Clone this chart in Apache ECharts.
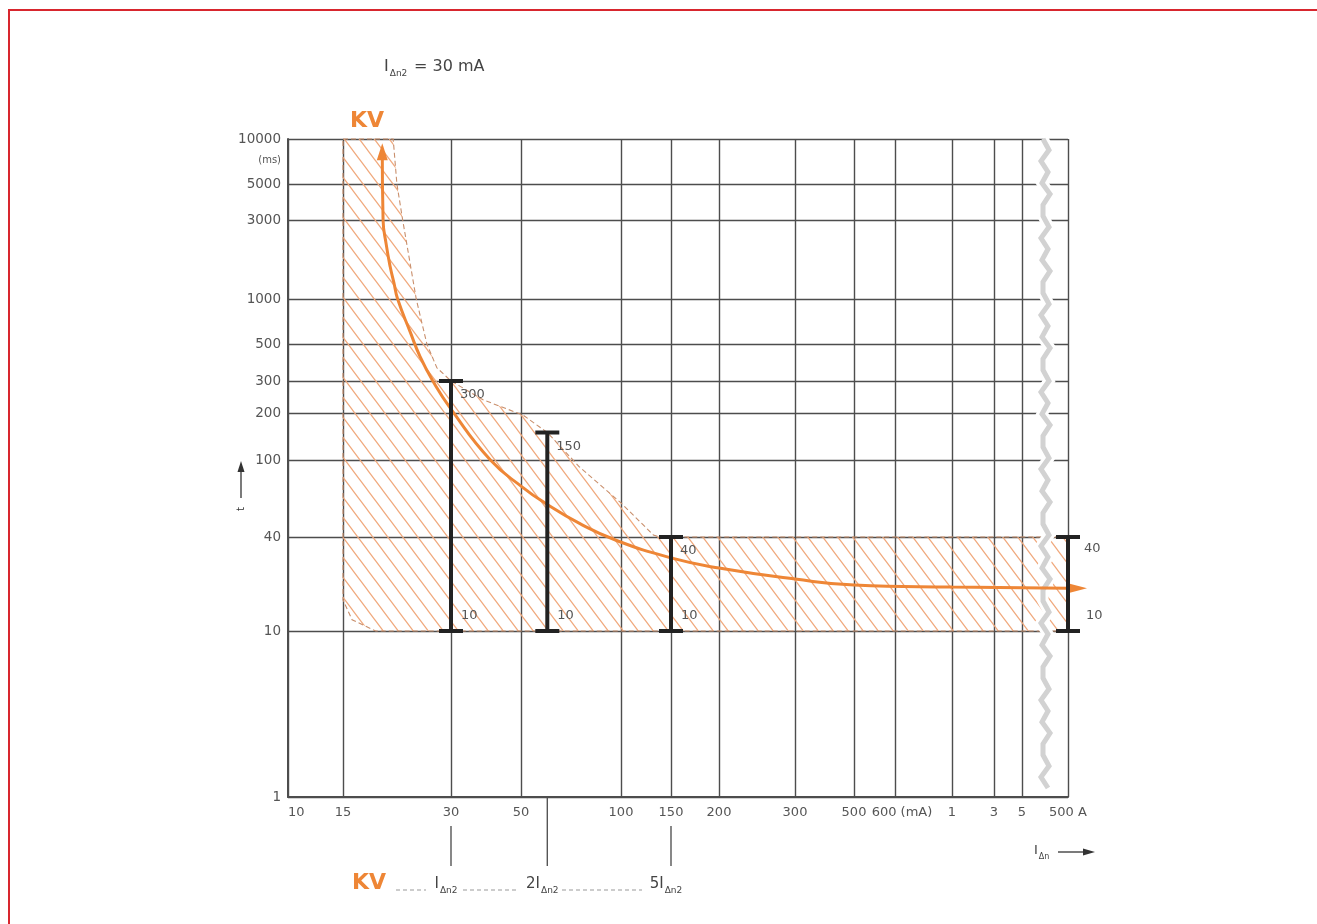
<!DOCTYPE html>
<html>
<head>
<meta charset="utf-8">
<style>
  html, body { margin: 0; padding: 0; background: #fff; }
  #chart { width: 1317px; height: 924px; }
</style>
<script src="https://cdn.jsdelivr.net/npm/echarts@6/dist/echarts.min.js"></script>
</head>
<body>
<div id="chart"></div>
<script>
// residual current axis, mA
const xTicks = [10, 15, 30, 50, 100, 150, 200, 300, 500, 600, 1000, 3000, 5000, 500000];
const xLabels = ['10', '15', '30', '50', '100', '150', '200', '300', '500', '600 (mA)', '1', '3', '5', '500 A'];
// tripping time axis, ms
const yTicks = [1, 10, 40, 100, 200, 300, 500, 1000, 3000, 5000, 10000];
const yLabels = ['1', '10', '40', '100', '200', '300', '500', '1000', '3000', '5000', '10000'];

// KV characteristic
const curveI = [19.3, 19.4, 19.8, 20.3, 20.8, 21.3, 23.1, 24.6, 26.7, 30, 40, 50.7, 59, 75, 97, 150, 200, 300, 500, 1000, 500000];
const curveT = [8400, 3000, 2130, 1570, 1250, 1000, 600, 420, 300, 210, 100, 72, 60, 47, 38, 29.4, 25.3, 21.5, 19.7, 19.1, 18.8];

// tolerance band outline
const bandI = [15, 20.7, 21.2, 22, 24, 25.7, 27.4, 30, 38, 50.7, 60, 75, 100, 130, 137, 500000, 500000, 18.5, 15.9, 15];
const bandT = [10000, 10000, 5000, 3000, 1000, 500, 360, 300, 236, 194, 150, 92, 60, 41, 40, 40, 10, 10, 11.8, 15.8];

// limit bars at I, 2I, 5I and 500 A
const barI = [30, 60, 150, 500000];
const barMax = [300, 150, 40, 40];
const barMin = [10, 10, 10, 10];

// the axes are not truly logarithmic, so each tick gets its own spot (px from grid origin)
const xTickPos = [0, 55, 163, 233, 333, 383, 431, 507, 566, 607, 664, 706, 734, 780];
const yTickPos = [0, 166, 260, 337, 384, 416, 453, 498, 577, 613, 658];

function scalePos(v, ticks, pos) {
  let i = 0;
  while (i < ticks.length - 2 && v > ticks[i + 1]) i++;
  const a = Math.log10(ticks[i]), b = Math.log10(ticks[i + 1]);
  const t = (Math.log10(v) - a) / (b - a);
  return pos[i] + t * (pos[i + 1] - pos[i]);
}
const X = v => scalePos(v, xTicks, xTickPos);
const Y = v => scalePos(v, yTicks, yTickPos);

function labelFor(val, pos, labels) {
  let best = 0;
  pos.forEach((p, i) => { if (Math.abs(p - val) < Math.abs(pos[best] - val)) best = i; });
  return labels[best];
}

const ORANGE = '#ee8636';
const GRID = '#4d4d4d';
const TEXT = '#555';
const FONT = '"DejaVu Sans", sans-serif';

function makeHatch() {
  const w = 15, h = 20;
  const c = document.createElement('canvas');
  c.width = w; c.height = h;
  const g = c.getContext('2d');
  g.strokeStyle = '#f0a87c';
  g.lineWidth = 1.3;
  for (let k = -1; k <= 1; k++) {
    g.beginPath();
    g.moveTo(k * w - w, -h);
    g.lineTo(k * w + 2 * w, 2 * h);
    g.stroke();
  }
  return c;
}
const hatch = { image: makeHatch(), repeat: 'repeat' };

const chart = echarts.init(document.getElementById('chart'));

const last = curveI.length - 1;

chart.setOption({
  animation: false,
  grid: { left: 288, top: 139, width: 780, height: 658 },
  xAxis: {
    type: 'value', min: 0, max: 780,
    axisLine: { show: true, lineStyle: { color: GRID, width: 2 } },
    axisTick: { show: false, customValues: xTicks.map(X) },
    axisLabel: {
      customValues: xTicks.map(X),
      formatter: v => {
        const s = labelFor(v, xTickPos, xLabels);
        return s.indexOf('(mA)') > 0 ? '{p|' + s + '}' : s;
      },
      rich: { p: { padding: [0, 0, 0, 14], color: TEXT, fontFamily: FONT, fontSize: 13 } },
      color: TEXT, fontFamily: FONT, fontSize: 13, margin: 9,
      alignMinLabel: 'left'
    },
    splitLine: { show: true, lineStyle: { color: GRID, width: 1.4 } }
  },
  yAxis: {
    type: 'value', min: 0, max: 658,
    axisLine: { show: true, lineStyle: { color: GRID, width: 2 } },
    axisTick: { show: false, customValues: yTicks.map(Y) },
    axisLabel: {
      customValues: yTicks.map(Y),
      formatter: v => labelFor(v, yTickPos, yLabels),
      color: TEXT, fontFamily: FONT, fontSize: 13.5, margin: 7
    },
    splitLine: { show: true, lineStyle: { color: GRID, width: 1.4 } }
  },
  series: [
    {
      type: 'custom',
      z: 2,
      data: bandI.map((v, i) => [X(v), Y(bandT[i])]),
      renderItem: (params, api) => {
        if (params.dataIndex !== 0) return null;
        const pts = bandI.map((v, i) => api.coord([X(v), Y(bandT[i])]));
        return {
          type: 'polygon',
          shape: { points: pts, smooth: 0 },
          style: { fill: hatch, stroke: '#c98f6c', lineWidth: 1.1, lineDash: [5, 3] }
        };
      }
    },
    {
      type: 'line',
      z: 5,
      data: curveI.map((v, i) => [X(v), Y(curveT[i])]),
      smooth: 0.5,
      showSymbol: false,
      lineStyle: { color: ORANGE, width: 3 },
      itemStyle: { color: ORANGE }
    },
    {
      // arrow heads at both ends of the curve
      type: 'custom',
      z: 5,
      data: [[X(curveI[0]), Y(curveT[0]), 0], [X(curveI[last]), Y(curveT[last]), 1]],
      renderItem: (params, api) => {
        const p = api.coord([api.value(0), api.value(1)]);
        const pts = api.value(2) === 0
          ? [[p[0] - 5.5, p[1] + 10], [p[0] + 5.5, p[1] + 10], [p[0], p[1] - 7]]
          : [[p[0] - 2, p[1] - 5.5], [p[0] - 2, p[1] + 5.5], [p[0] + 19, p[1]]];
        return { type: 'polygon', shape: { points: pts }, style: { fill: ORANGE } };
      }
    },
    {
      type: 'custom',
      z: 6,
      data: barI.map((v, i) => [X(v), Y(barMax[i]), Y(barMin[i]), barMax[i], barMin[i]]),
      renderItem: (params, api) => {
        const x = api.value(0);
        const hi = api.coord([x, api.value(1)]);
        const lo = api.coord([x, api.value(2)]);
        const isLast = params.dataIndex === barI.length - 1;
        const dx = isLast ? 16 : 9;
        const cap = 12;
        const st = { stroke: '#222', lineWidth: 4 };
        const lab = { fill: TEXT, fontFamily: FONT, fontSize: 13, verticalAlign: 'middle' };
        return {
          type: 'group',
          children: [
            { type: 'line', shape: { x1: hi[0], y1: hi[1], x2: lo[0], y2: lo[1] }, style: st },
            { type: 'line', shape: { x1: hi[0] - cap, y1: hi[1], x2: hi[0] + cap, y2: hi[1] }, style: st },
            { type: 'line', shape: { x1: lo[0] - cap, y1: lo[1], x2: lo[0] + cap, y2: lo[1] }, style: st },
            { type: 'text', x: hi[0] + dx, y: hi[1] + (isLast ? 12 : 14), style: Object.assign({ text: String(api.value(3)) }, lab) },
            { type: 'text', x: lo[0] + dx + (isLast ? 2 : 1), y: lo[1] - 15, style: Object.assign({ text: String(api.value(4)) }, lab) }
          ]
        };
      }
    }
  ]
});

// ---- annotations ----
const mctx = document.createElement('canvas').getContext('2d');
function textW(s, size, weight) {
  mctx.font = (weight || 'normal') + ' ' + size + 'px DejaVu Sans';
  return mctx.measureText(s).width;
}
// main text followed by a lowered subscript, left-aligned at x
function subText(x, y, main, sub, size, subSize, color) {
  const w = textW(main, size);
  return [
    { type: 'text', x: x, y: y, z: 10, style: { text: main, fill: color, fontFamily: FONT, fontSize: size, verticalAlign: 'middle' } },
    { type: 'text', x: x + w + 1, y: y + size * 0.42, z: 10, style: { text: sub, fill: color, fontFamily: FONT, fontSize: subSize, verticalAlign: 'middle' } }
  ];
}
function subTextCentered(cx, y, main, sub, size, subSize, color) {
  const w = textW(main, size) + 1 + textW(sub, subSize);
  return subText(cx - w / 2, y, main, sub, size, subSize, color);
}

const px = v => chart.convertToPixel({ gridIndex: 0 }, [X(v), 0])[0];
const gridTop = 139, gridBottom = 797;

// broken-axis wave between 5 A and 500 A
const breakX = (px(5000) + px(500000)) / 2;
const zig = [];
const zigShape = [-2, 4, -4, 3, -3, 5, -2];
for (let y = gridTop, k = 0; y <= gridBottom; y += 11, k++) {
  zig.push([breakX + zigShape[k % zigShape.length], y]);
}

const graphic = [
  { type: 'line', shape: { x1: 8, y1: 10, x2: 1317, y2: 10 }, style: { stroke: '#d8262e', lineWidth: 2 } },
  { type: 'line', shape: { x1: 9, y1: 9, x2: 9, y2: 924 }, style: { stroke: '#d8262e', lineWidth: 2 } },

  { type: 'polyline', z: 3, shape: { points: zig }, style: { stroke: '#fff', lineWidth: 11, fill: null } },
  { type: 'polyline', z: 3, shape: { points: zig }, style: { stroke: '#d2d2d2', lineWidth: 5, fill: null } },

  { type: 'text', x: 350, y: 121, z: 10, style: { text: 'KV', fill: ORANGE, fontFamily: FONT, fontWeight: 'bold', fontSize: 22, verticalAlign: 'middle' } },
  { type: 'text', x: 281, y: 160, z: 10, style: { text: '(ms)', fill: TEXT, fontFamily: FONT, fontSize: 10, align: 'right', verticalAlign: 'middle' } },

  // t axis arrow
  { type: 'line', shape: { x1: 241, y1: 498, x2: 241, y2: 470 }, style: { stroke: '#333', lineWidth: 1.3 } },
  { type: 'polygon', shape: { points: [[237.5, 472], [244.5, 472], [241, 461]] }, style: { fill: '#333' } },
  { type: 'text', x: 241, y: 509, rotation: Math.PI / 2, z: 10, style: { text: 't', fill: '#333', fontFamily: FONT, fontSize: 10, align: 'center', verticalAlign: 'middle' } },

  // I axis arrow
  { type: 'line', shape: { x1: 1058, y1: 852, x2: 1085, y2: 852 }, style: { stroke: '#333', lineWidth: 1.3 } },
  { type: 'polygon', shape: { points: [[1083, 848.5], [1083, 855.5], [1095, 852]] }, style: { fill: '#333' } },

  // bottom legend
  { type: 'text', x: 352, y: 883, z: 10, style: { text: 'KV', fill: ORANGE, fontFamily: FONT, fontWeight: 'bold', fontSize: 22, verticalAlign: 'middle' } }
];

graphic.push(...subText(384, 67, 'I', 'Δn2', 16, 9, '#444'));
graphic.push({ type: 'text', x: 414, y: 67, z: 10, style: { text: '= 30 mA', fill: '#444', fontFamily: FONT, fontSize: 16, verticalAlign: 'middle' } });
graphic.push(...subText(1034, 851, 'I', 'Δn', 13, 8, '#444'));

// drop lines from the axis to the legend labels
const marks = [
  { i: 30, main: 'I', top: 826 },
  { i: 60, main: '2I', top: gridBottom },
  { i: 150, main: '5I', top: 826 }
];
marks.forEach(m => {
  const x = px(m.i);
  graphic.push({ type: 'line', shape: { x1: x, y1: m.top, x2: x, y2: 866 }, style: { stroke: '#555', lineWidth: 1.4 } });
  graphic.push(...subTextCentered(x - 5, 884, m.main, 'Δn2', 15, 9, '#444'));
});
// dashed connectors between legend labels
[[396, 426], [463, 516], [562, 642]].forEach(seg => {
  graphic.push({ type: 'line', shape: { x1: seg[0], y1: 890, x2: seg[1], y2: 890 }, style: { stroke: '#999', lineWidth: 1, lineDash: [4, 3] } });
});

chart.setOption({ graphic: graphic });
</script>
</body>
</html>
